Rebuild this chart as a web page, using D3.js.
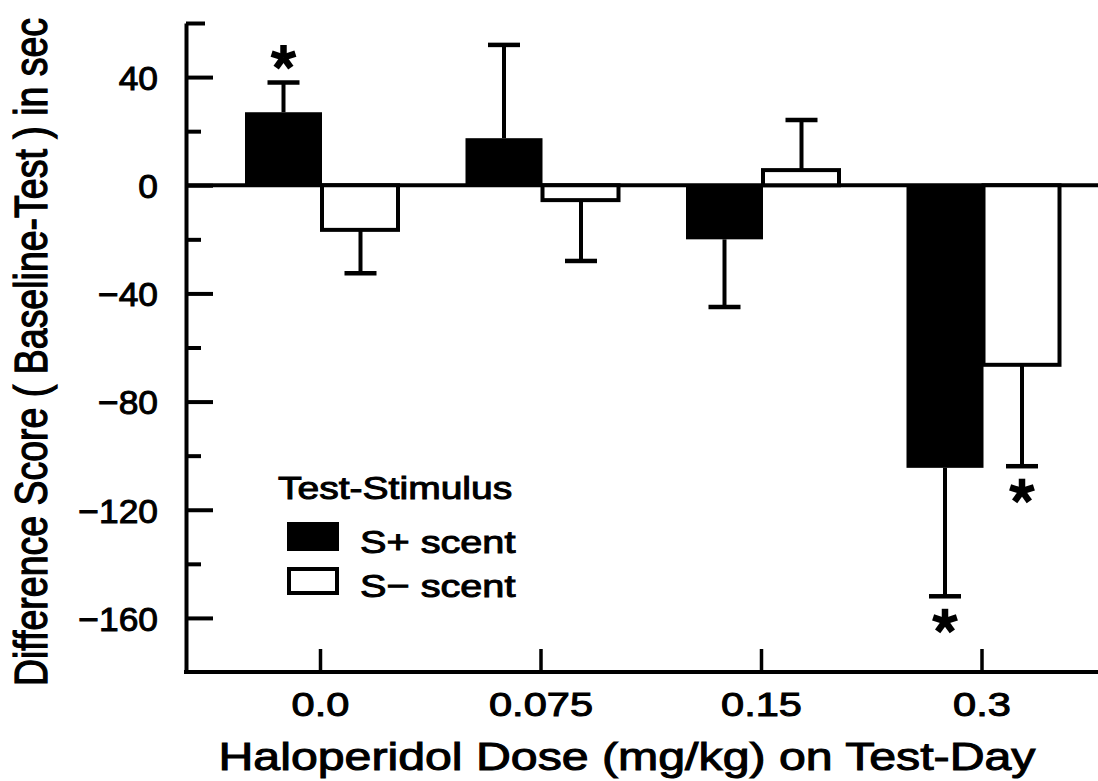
<!DOCTYPE html>
<html>
<head>
<meta charset="utf-8">
<script src="https://cdn.jsdelivr.net/npm/d3@7"></script>
<style>
  body { margin: 0; background: #fff; }
  svg text { font-family: "Liberation Sans", Arial, Helvetica, sans-serif; fill: #000; stroke: #000; stroke-width: 1px; }
</style>
</head>
<body>
<svg id="chart" width="1098" height="781"></svg>
<script>
// Haloperidol doses on test day (mg/kg)
const doses = ["0.0", "0.075", "0.15", "0.3"];
// Mean difference score (Baseline - Test), seconds, and SEM
const splusMean  = [27, 17.4, -20, -104.5];
const splusSem   = [11, 34.5, 25, 47.5];
const sminusMean = [-16.5, -5.5, 5.6, -66.4];
const sminusSem  = [16, 22.5, 18.5, 37.5];
// Groups marked significant
const starsPlus  = ["0.0", "0.3"];
const starsMinus = ["0.3"];
// Axis ticks
const yMajorTicks = [40, 0, -40, -80, -120, -160];
const yMinorTicks = [20, -20, -60, -100, -140];
const yTopTick = [60];
const legendLabels = ["S+ scent", "S\u2212 scent"];

const svg = d3.select("#chart");
const W = 1098;

const x = d3.scaleBand().domain(doses).range([211.75, 1093.75]);
const y = d3.scaleLinear().domain([-180, 60]).range([672, 23]);
const axisX = 186;
const barW = 77;
const center = d => x(d) + x.bandwidth() / 2;

// Y axis with major, minor and top ticks pointing inward
const gy = svg.append("g").attr("transform", `translate(${axisX},0)`);
gy.call(d3.axisLeft(y).tickValues(yMajorTicks).tickSizeInner(-27).tickSizeOuter(0).tickPadding(28)
  .tickFormat(d => d < 0 ? "\u2212" + Math.abs(d) : String(d)));
gy.select(".domain").attr("stroke-width", 4).attr("stroke", "#000");
gy.selectAll(".tick line").attr("stroke-width", 4).attr("stroke", "#000");
gy.selectAll(".tick text")
  .attr("font-size", 34)
  .attr("x", null).attr("dy", "0.36em")
  .attr("transform", "translate(-28,0) scale(1.04,1)")
  .attr("text-anchor", "end")
  .style("font-family", "'Liberation Sans', Arial, sans-serif");

const gyMinor = svg.append("g").attr("transform", `translate(${axisX},0)`);
gyMinor.call(d3.axisLeft(y).tickValues(yMinorTicks).tickSizeInner(-15).tickSizeOuter(0).tickFormat(""));
gyMinor.select(".domain").remove();
gyMinor.selectAll(".tick line").attr("stroke-width", 4).attr("stroke", "#000");

const gyTop = svg.append("g").attr("transform", `translate(${axisX},0)`);
gyTop.call(d3.axisLeft(y).tickValues(yTopTick).tickSizeInner(-19).tickSizeOuter(0).tickFormat(""));
gyTop.select(".domain").remove();
gyTop.selectAll(".tick line").attr("stroke-width", 4).attr("stroke", "#000");

// X axis baseline and upward ticks
const baseY = y(-180);
svg.append("line").attr("x1", axisX - 2).attr("x2", W).attr("y1", baseY).attr("y2", baseY)
  .attr("stroke", "#000").attr("stroke-width", 4);
const gx = svg.append("g").attr("transform", `translate(-1.5,${baseY})`);
gx.call(d3.axisBottom(x).tickSizeInner(-23).tickSizeOuter(0).tickPadding(20));
gx.select(".domain").remove();
gx.selectAll(".tick line").attr("stroke-width", 3.5).attr("stroke", "#000");
gx.selectAll(".tick text")
  .attr("font-size", 33).attr("dy", "0.72em")
  .attr("transform", "scale(1.26,1)")
  .style("font-family", "'Liberation Sans', Arial, sans-serif");

// Zero reference line
svg.append("line").attr("x1", axisX).attr("x2", W).attr("y1", y(0)).attr("y2", y(0))
  .attr("stroke", "#000").attr("stroke-width", 4);

// Bars
const rows = doses.map((d, i) => ({
  dose: d, c: center(d),
  pm: splusMean[i], ps: splusSem[i],
  mm: sminusMean[i], ms: sminusSem[i]
}));

svg.selectAll("rect.splus").data(rows).join("rect").attr("class", "splus")
  .attr("x", r => r.c - barW).attr("width", barW)
  .attr("y", r => Math.min(y(0), y(r.pm))).attr("height", r => Math.abs(y(r.pm) - y(0)))
  .attr("fill", "#000");

svg.selectAll("rect.sminus").data(rows).join("rect").attr("class", "sminus")
  .attr("x", r => r.c).attr("width", barW - 1)
  .attr("y", r => Math.min(y(0), y(r.mm))).attr("height", r => Math.abs(y(r.mm) - y(0)))
  .attr("fill", "#fff").attr("stroke", "#000").attr("stroke-width", 4);

// Error bars extend away from zero
function errorBar(cx, mean, sem) {
  const dir = mean >= 0 ? 1 : -1;
  const y0 = y(mean), y1 = y(mean + dir * sem);
  const g = svg.append("g").attr("stroke", "#000");
  g.append("line").attr("x1", cx).attr("x2", cx).attr("y1", y0).attr("y2", y1).attr("stroke-width", 4);
  g.append("line").attr("x1", cx - 16).attr("x2", cx + 16).attr("y1", y1).attr("y2", y1).attr("stroke-width", 4.5);
  return { cx, yEnd: y1, dir };
}
const plusEnds = rows.map(r => errorBar(r.c - barW / 2, r.pm, r.ps));
const minusEnds = rows.map(r => errorBar(r.c + barW / 2, r.mm, r.ms));

// Significance asterisks
function asterisk(cx, cy) {
  const g = svg.append("g").attr("transform", `translate(${cx},${cy})`);
  [-90, -18, 54, 126, 198].forEach(a => {
    const rad = a * Math.PI / 180;
    g.append("line").attr("x1", 0).attr("y1", 0)
      .attr("x2", 12.5 * Math.cos(rad)).attr("y2", 12.5 * Math.sin(rad))
      .attr("stroke", "#000").attr("stroke-width", 6.5);
  });
}
doses.forEach((d, i) => {
  if (starsPlus.includes(d)) { const e = plusEnds[i]; asterisk(e.cx, e.yEnd - e.dir * 25); }
  if (starsMinus.includes(d)) { const e = minusEnds[i]; asterisk(e.cx, e.yEnd - e.dir * 25); }
});

// Axis titles
svg.append("text")
  .attr("transform", "translate(627,770) scale(1.27,1)")
  .attr("text-anchor", "middle").attr("font-size", 38)
  .text("Haloperidol Dose (mg/kg) on Test-Day");

svg.append("text")
  .attr("transform", "translate(47,352) scale(1.25,1) rotate(-90)")
  .attr("text-anchor", "middle").attr("font-size", 37.5)
  .text("Difference Score ( Baseline-Test ) in sec");

// Legend
const lg = svg.append("g");
lg.append("text").attr("transform", "translate(278,499) scale(1.22,1)").attr("font-size", 32).text("Test-Stimulus");
lg.append("rect").attr("x", 287).attr("y", 522).attr("width", 52).attr("height", 29).attr("fill", "#000");
lg.append("rect").attr("x", 289).attr("y", 569).attr("width", 48).attr("height", 24)
  .attr("fill", "#fff").attr("stroke", "#000").attr("stroke-width", 4);
legendLabels.forEach((t, i) => {
  lg.append("text").attr("transform", `translate(360,${553 + i * 44}) scale(1.24,1)`)
    .attr("font-size", 32).text(t);
});
</script>
</body>
</html>
